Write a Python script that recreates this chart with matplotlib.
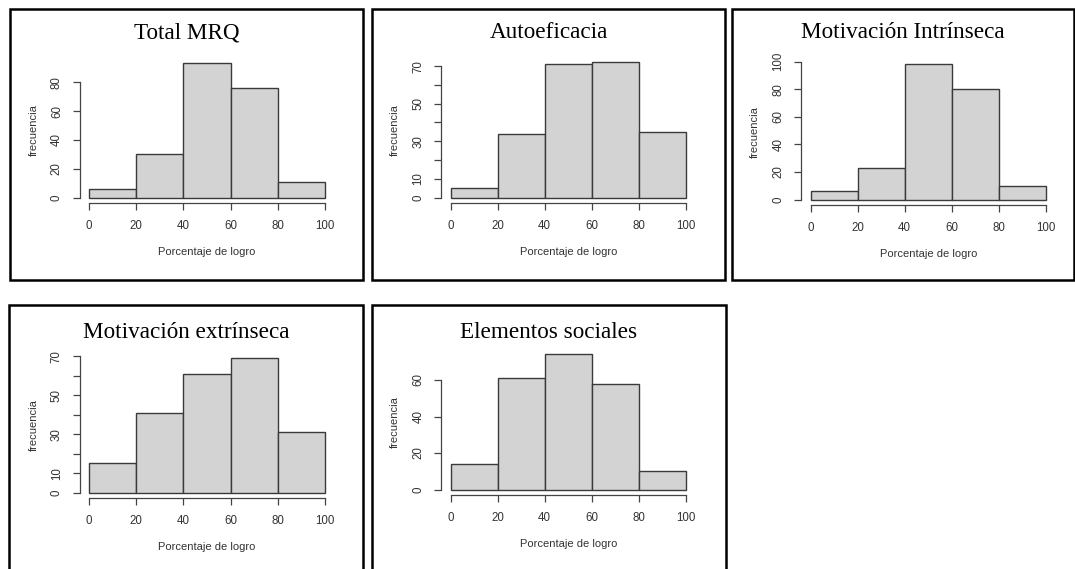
import matplotlib
matplotlib.use('Agg')
import matplotlib.pyplot as plt
from matplotlib.patches import Rectangle

# ------------------------------------------------------------------ #
# data (counts per 20-point bin)
# ------------------------------------------------------------------ #
bin_edges = [0, 20, 40, 60, 80, 100]

titles = ['Total MRQ', 'Autoeficacia', 'Motivación Intrínseca',
          'Motivación extrínseca', 'Elementos sociales']

total_mrq = [6, 30, 93, 76, 11]
autoeficacia = [5, 34, 71, 72, 35]
mot_intrinseca = [6, 23, 98, 80, 10]
mot_extrinseca = [15, 41, 61, 69, 31]
elem_sociales = [14, 61, 74, 58, 10]

# y ticks and their labels (R drops some labels when they would overlap)
yticks_mrq = [0, 20, 40, 60, 80]
yticks_auto = [0, 10, 20, 30, 40, 50, 60, 70]
yticks_intr = [0, 20, 40, 60, 80, 100]
yticks_extr = [0, 10, 20, 30, 40, 50, 60, 70]
yticks_soc = [0, 20, 40, 60]
ylabels_mrq = ['0', '20', '40', '60', '80']
ylabels_auto = ['0', '10', '', '30', '', '50', '', '70']
ylabels_intr = ['0', '20', '40', '60', '80', '100']
ylabels_extr = ['0', '10', '', '30', '', '50', '', '70']
ylabels_soc = ['0', '20', '40', '60']

xticks = [0, 20, 40, 60, 80, 100]
xlabel = 'Porcentaje de logro'
ylabel = 'frecuencia'

counts = [total_mrq, autoeficacia, mot_intrinseca, mot_extrinseca, elem_sociales]
yticks = [yticks_mrq, yticks_auto, yticks_intr, yticks_extr, yticks_soc]
ylabels = [ylabels_mrq, ylabels_auto, ylabels_intr, ylabels_extr, ylabels_soc]

# ------------------------------------------------------------------ #
# layout in pixels: (left, top, right, bottom)
# ------------------------------------------------------------------ #
W, H = 1075, 569
boxes = [(10, 9, 363, 280), (372, 9, 725, 280), (732, 9, 1074, 280),
         (9, 305, 363, 575), (372, 305, 726, 575)]
plots = [(79.6, 58, 334.4, 203), (441.3, 57, 695.1, 203), (801.3, 59, 1055.1, 205),
         (79.6, 353, 334.4, 498), (441.3, 349, 695.1, 495)]
title_y = [33, 33, 33, 333, 333]

sans = 'Liberation Sans'
serif = 'Liberation Serif'
txt_col = '#333333'
line_col = '#444444'

fig = plt.figure(figsize=(W / 100, H / 100), dpi=100)
fig.patch.set_facecolor('white')

for i in range(5):
    # black frame round each panel
    bl, bt, br, bb = boxes[i]
    fig.add_artist(Rectangle((bl / W, 1 - bb / H), (br - bl) / W, (bb - bt) / H,
                             transform=fig.transFigure, fill=False,
                             edgecolor='black', linewidth=1.8))

    pl, pt, pr, pb = plots[i]
    ax = fig.add_axes([pl / W, 1 - pb / H, (pr - pl) / W, (pb - pt) / H])
    ax.set_facecolor('none')

    c = counts[i]
    ax.bar(bin_edges[:-1], c, width=20, align='edge', color='#d3d3d3',
           edgecolor='#3a3a3a', linewidth=1.0)

    # R style 4% padding on both axes
    m = max(c)
    ax.set_xlim(-4, 104)
    ax.set_ylim(-0.04 * m, 1.04 * m)

    for s in ['top', 'right']:
        ax.spines[s].set_visible(False)
    ax.spines['left'].set_bounds(yticks[i][0], yticks[i][-1])
    ax.spines['bottom'].set_bounds(0, 100)
    for s in ['left', 'bottom']:
        ax.spines[s].set_color(line_col)
        ax.spines[s].set_linewidth(0.9)

    ax.set_xticks(xticks)
    ax.set_xticklabels([str(v) for v in xticks], fontfamily=sans, fontsize=8.3, color=txt_col)
    ax.set_yticks(yticks[i])
    ax.set_yticklabels(ylabels[i], fontfamily=sans, fontsize=8.3, color=txt_col,
                       rotation=90, va='center')
    ax.tick_params(length=5, width=0.9, color=line_col, pad=7)

    ph = pb - pt
    pw = pr - pl
    ax.set_xlabel(xlabel, fontfamily=sans, fontsize=8, color=txt_col, va='center')
    ax.xaxis.set_label_coords(0.5, -49 / ph)
    ax.set_ylabel(ylabel, fontfamily=sans, fontsize=8, color=txt_col, va='center')
    ax.yaxis.set_label_coords(-46 / pw, 0.5)

    fig.text(((bl + br) / 2) / W, 1 - title_y[i] / H, titles[i],
             fontfamily=serif, fontsize=16.7, color='black', ha='center', va='center')

fig.savefig('out.png', dpi=100, facecolor='white')
